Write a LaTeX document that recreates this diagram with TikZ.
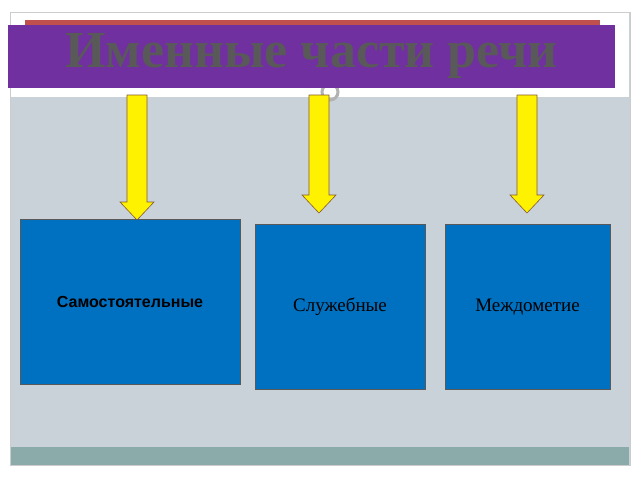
\documentclass[tikz,border=0pt]{standalone}
\usepackage{fontspec}
\setmainfont{Liberation Serif}
\setsansfont{Liberation Sans}
\definecolor{slidegray}{HTML}{C8D2D8}
\definecolor{bandteal}{HTML}{8AABAA}
\definecolor{titlepurple}{HTML}{7030A0}
\definecolor{barred}{HTML}{C0504D}
\definecolor{boxblue}{HTML}{0070C0}
\definecolor{textgray}{HTML}{595959}
\tikzset{
  part box/.style={draw=gray!70!black,fill=boxblue,minimum width=#1,minimum height=165pt,inner sep=0pt},
  down arrow/.style={draw=brown!70!black,fill=yellow,line width=0.6pt}
}
\newcommand{\yellowarrow}[3]{% x, top, tip
  \filldraw[down arrow] (#1-10,#2) -- (#1+10,#2) -- (#1+10,#3-18) -- (#1+17,#3-18) -- (#1,#3) -- (#1-17,#3-18) -- (#1-10,#3-18) -- cycle;}
\begin{document}
\begin{tikzpicture}[x=1pt,y=-1pt]
\useasboundingbox (0,0) rectangle (640,480);
% slide
\fill[white] (0,0) rectangle (640,480);
\draw[gray!40,fill=slidegray] (10,12) rectangle (630,465);
\fill[white] (11,13) rectangle (629,97);
\fill[bandteal] (11,447) rectangle (629,465);
\draw[gray!60,line width=3pt] (330,92) circle (8);
% title
\fill[barred] (25,20) rectangle (600,30);
\node[fill=titlepurple,minimum width=607pt,minimum height=63pt,inner sep=0pt,
      text=textgray,font=\bfseries\fontsize{52}{52}\selectfont] (title) at (311.5,56) {Именные части речи};
% arrows
\yellowarrow{137}{95}{220}
\yellowarrow{319}{95}{213}
\yellowarrow{527}{95}{213}
% boxes
\node[part box=220pt,font=\sffamily\bfseries\fontsize{16}{16}\selectfont] (indep) at (130,302) {Самостоятельные};
\node[part box=170pt,font=\fontsize{19}{19}\selectfont] (func) at (340,307) {Служебные};
\node[part box=165pt,font=\fontsize{19}{19}\selectfont] (interj) at (527.5,307) {Междометие};
\end{tikzpicture}
\end{document}
